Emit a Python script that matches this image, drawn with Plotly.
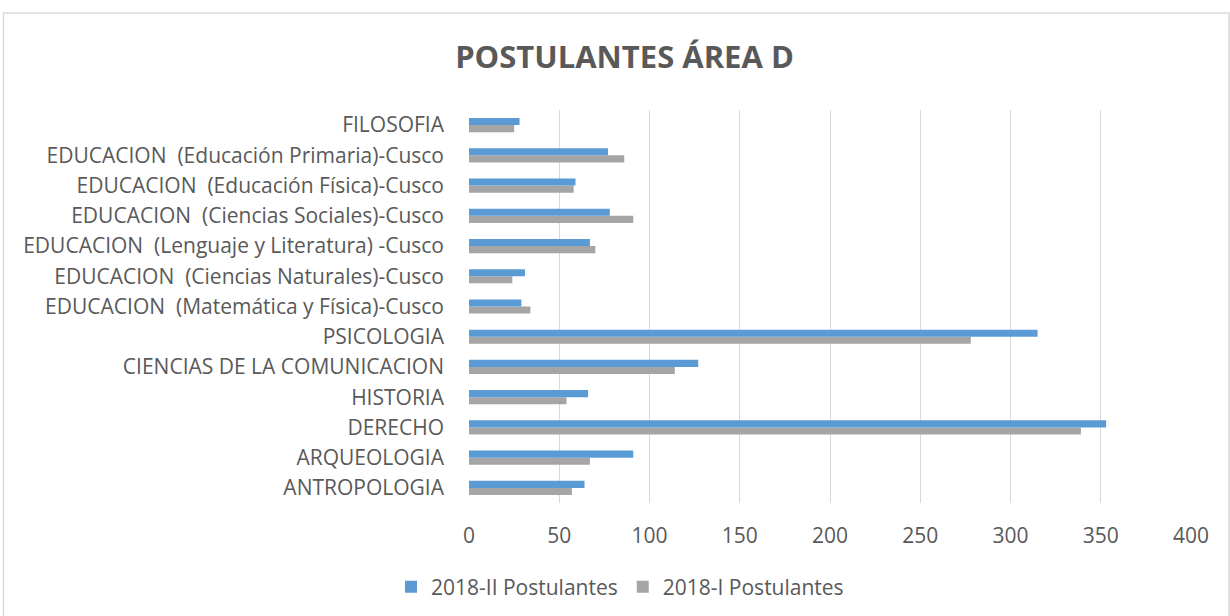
import plotly.graph_objects as go

categories = ["ANTROPOLOGIA", "ARQUEOLOGIA", "DERECHO", "HISTORIA",
              "CIENCIAS DE LA COMUNICACION", "PSICOLOGIA",
              "EDUCACION  (Matemática y Física)-Cusco",
              "EDUCACION  (Ciencias Naturales)-Cusco",
              "EDUCACION  (Lenguaje y Literatura) -Cusco",
              "EDUCACION  (Ciencias Sociales)-Cusco",
              "EDUCACION  (Educación Física)-Cusco",
              "EDUCACION  (Educación Primaria)-Cusco",
              "FILOSOFIA"]
s2018_II = [64, 91, 353, 66, 127, 315, 29, 31, 67, 78, 59, 77, 28]
s2018_I = [57, 67, 339, 54, 114, 278, 34, 24, 70, 91, 58, 86, 25]
x_ticks = [0, 50, 100, 150, 200, 250, 300, 350, 400]

FONT = "Open Sans"
TXT = "#595959"
W, H = 1230, 616
PL, PR, PT, PB = 469, 1191, 110, 503   # plot area in page pixels


def px(x):
    return (x - PL) / (PR - PL)


def py(y):
    return (PB - y) / (PB - PT)


fig = go.Figure()
fig.add_trace(go.Bar(y=categories, x=s2018_I, orientation="h",
                     name="2018-I Postulantes", marker_color="#A5A5A5",
                     marker_line_width=0))
fig.add_trace(go.Bar(y=categories, x=s2018_II, orientation="h",
                     name="2018-II Postulantes", marker_color="#5B9BD5",
                     marker_line_width=0))

fig.update_layout(
    width=W, height=H,
    margin=dict(l=PL, r=W - PR, t=PT, b=H - PB, pad=0, autoexpand=False),
    paper_bgcolor="white", plot_bgcolor="white",
    barmode="group", bargap=0.53, bargroupgap=0,
    font=dict(family=FONT, size=21, color=TXT),
    title=dict(text="<b>POSTULANTES ÁREA D</b>", xref="container",
               x=624.5 / W, xanchor="center", yref="container",
               y=1 - 57 / H, yanchor="middle",
               font=dict(family=FONT, size=31, color=TXT)),
    showlegend=True,
    legend=dict(orientation="h", traceorder="reversed",
                xref="container", x=620 / W, xanchor="center",
                yref="container", y=1 - 587 / H, yanchor="middle",
                font=dict(family=FONT, size=21, color=TXT),
                itemwidth=30, itemsizing="constant"),
    xaxis=dict(range=[0, 400], tickvals=x_ticks, showgrid=True,
               gridcolor="#D9D9D9", gridwidth=1, zeroline=False,
               showline=False, ticks="", ticklabelstandoff=18,
               tickfont=dict(family=FONT, size=21, color=TXT), fixedrange=True),
    yaxis=dict(type="category", categoryorder="array", categoryarray=categories,
               showgrid=False, zeroline=False, showline=False, ticks="",
               ticklabelstandoff=24,
               tickfont=dict(family=FONT, size=21, color=TXT)),
    shapes=[dict(type="rect", xref="paper", yref="paper",
                 x0=px(3.5), x1=px(1229), y0=py(640), y1=py(13),
                 line=dict(color="#D9D9D9", width=1.5), layer="below")],
)

fig.write_html("out.html", config={"displayModeBar": False},
               post_script="document.body.style.margin='0';")
